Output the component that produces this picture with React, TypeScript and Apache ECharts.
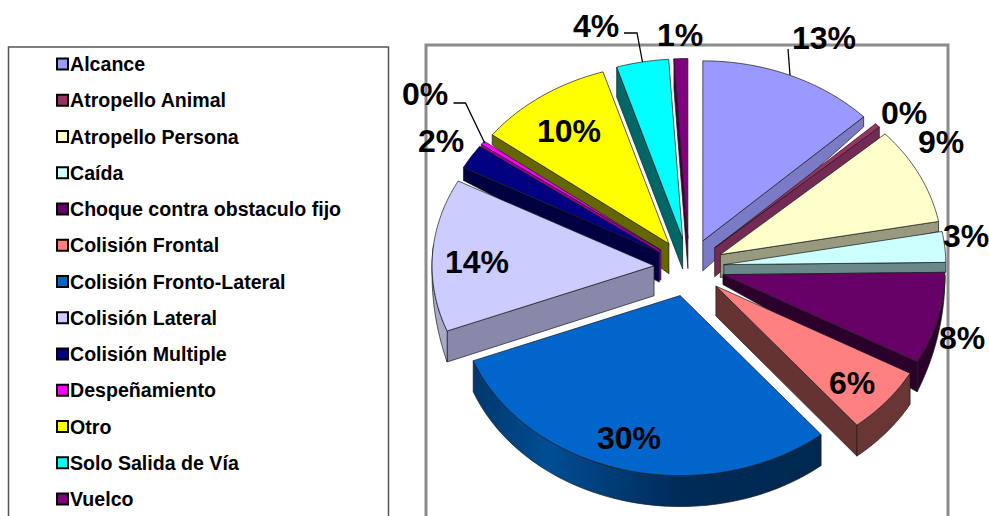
import React, { useEffect, useRef } from "react";
import * as echarts from "echarts";

const categories = ["Alcance", "Atropello Animal", "Atropello Persona", "Caída", "Choque contra obstaculo fijo", "Colisión Frontal", "Colisión Fronto-Lateral", "Colisión Lateral", "Colisión Multiple", "Despeñamiento", "Otro", "Solo Salida de Vía", "Vuelco"];
const shares = [12.9, 0.4, 8.75, 2.75, 8.25, 6.0, 30.05, 13.7, 2.2, 0.35, 9.85, 3.8, 1.0];

const topColors = ["#9999FF", "#993366", "#FFFFCC", "#CCFFFF", "#660066", "#FF8080", "#0066CC", "#CCCCFF", "#000080", "#FF00FF", "#FFFF00", "#00FFFF", "#800080"];
const wallColors = ["#7a7ac6", "#732a55", "#99997f", "#6a8888", "#2b002b", "#663333", "#003060", "#8888aa", "#000040", "#990099", "#666600", "#006666", "#400040"];
const paintRank = [1, 3, 7, 8, 10, 11, 12, 9, 6, 5, 4, 2, 0];

// pie geometry in pixels
const CX = 689, CY = 267.5, RX = 222, RY = 180, EX = 35, EY = 29;
// radial side wall of each slice: [edge, thickness at centre, thickness at rim]
const radialWalls: any[] = [["end", 30, 10], ["end", 29, 11], ["end", 23, 10], ["end", 10, 10], ["end", 10, 30], ["end", 30, 31], null, ["start", 30, 31], ["start", 30, 13], ["start", 30, 10], ["start", 30, 10], ["start", 30, 30], ["start", 30, 30]];
// rim wall of each slice: [degrees skipped at start, degrees kept from start (null = all), thickness at from, thickness at to]
const rimWalls: any[] = [null, null, null, null, [1, null, 2, 30], [0, null, 31, 31], [0, null, 31, 31], [0, 28, 31, 1], null, null, null, null, null];
const rimColors = ["", "", "", "", "#2b002b", "#6a3535", "", "#a9a9c8", "", "", "", "", ""];
const labelCenters = [[824, 38], [904, 113], [941, 142], [966, 236], [962, 338], [852, 383], [629, 438], [477, 262], [441, 141], [425, 94], [569, 131], [596, 26], [680, 35]];

const total = shares.reduce((a, b) => a + b, 0);
const starts: number[] = [];
shares.reduce((acc, v, i) => { starts[i] = acc; return acc + v; }, 0);
const rad = (d: number) => (d * Math.PI) / 180;

function sliceElements(i: number, value: number) {
  const a0 = (starts[i] / total) * 360;
  const a1 = a0 + (value / total) * 360;
  const mid = rad((a0 + a1) / 2);
  const ox = CX + EX * Math.sin(mid);
  const oy = CY - EY * Math.cos(mid);
  const rim = (deg: number, drop = 0) => [ox + RX * Math.sin(rad(deg)), oy - RY * Math.cos(rad(deg)) + drop];
  const z = paintRank[i] * 3 + 1;
  const children: any[] = [];
  const edge = { stroke: "#1a1a1a", lineWidth: 0.7 };

  const rw = radialWalls[i];
  if (rw) {
    const deg = rw[0] === "end" ? a1 : a0;
    children.push({
      type: "polygon", z2: z,
      shape: { points: [[ox, oy], rim(deg), rim(deg, rw[2]), [ox, oy + rw[1]]] },
      style: { fill: wallColors[i], ...edge },
    });
  }
  const rwall = rimWalls[i];
  if (rwall) {
    const from = a0 + rwall[0];
    const to = rwall[1] === null ? a1 : a0 + rwall[1];
    const pts: number[][] = [];
    const n = 40;
    for (let k = 0; k <= n; k++) pts.push(rim(from + ((to - from) * k) / n));
    for (let k = n; k >= 0; k--) pts.push(rim(from + ((to - from) * k) / n, rwall[2] + ((rwall[3] - rwall[2]) * k) / n));
    const fill = rimColors[i] || new echarts.graphic.LinearGradient(0, 0, 1, 0, [
      { offset: 0, color: "#00386e" }, { offset: 0.22, color: "#004d94" }, { offset: 0.42, color: "#003a72" },
      { offset: 0.6, color: "#002a58" }, { offset: 1, color: "#00284f" },
    ]);
    children.push({ type: "polygon", z2: z + 1, shape: { points: pts }, style: { fill, ...edge } });
  }
  const face: number[][] = [[ox, oy]];
  const steps = Math.max(3, Math.ceil(a1 - a0));
  for (let k = 0; k <= steps; k++) face.push(rim(a0 + ((a1 - a0) * k) / steps));
  children.push({ type: "polygon", z2: z + 2, shape: { points: face }, style: { fill: topColors[i], ...edge } });

  children.push({
    type: "text", z2: 200,
    style: {
      text: `${Math.round(value)}%`, x: labelCenters[i][0], y: labelCenters[i][1],
      fill: "#000", font: "bold 32px 'Liberation Sans', Arial, sans-serif", align: "center", verticalAlign: "middle",
    },
  });
  return { type: "group", children };
}

export default function App() {
  const ref = useRef<HTMLDivElement>(null);
  useEffect(() => {
    document.body.style.margin = "0";
    document.body.style.overflow = "hidden";
    const chart = echarts.init(ref.current!, undefined, { renderer: "svg" });
    chart.setOption({
      animation: false,
      backgroundColor: "#fff",
      legend: {
        orient: "vertical", left: 56, top: 53, padding: 0, data: categories, icon: "rect",
        itemWidth: 11, itemHeight: 11, itemGap: 14.25, selectedMode: false,
        itemStyle: { borderColor: "#000", borderWidth: 2 },
        textStyle: { color: "#000", fontFamily: "'Liberation Sans', Arial, sans-serif", fontWeight: "bold", fontSize: 19.6, lineHeight: 22, padding: [0, 0, 0, -3] },
      },
      graphic: [
        { type: "rect", silent: true, shape: { x: 8.5, y: 47, width: 380, height: 500 }, style: { fill: "none", stroke: "#555", lineWidth: 1.5 } },
        { type: "rect", silent: true, shape: { x: 426, y: 45, width: 522, height: 500 }, style: { fill: "none", stroke: "#8c8c8c", lineWidth: 3 } },
        { type: "line", silent: true, z: 5, shape: { x1: 788, y1: 49, x2: 790, y2: 75 }, style: { stroke: "#000", lineWidth: 1.3 } },
        { type: "polyline", silent: true, z: 5, shape: { points: [[624, 33], [637, 33], [642.5, 62]] }, style: { fill: "none", stroke: "#000", lineWidth: 1.3 } },
        { type: "polyline", silent: true, z: 5, shape: { points: [[453.5, 103], [465.5, 103], [484.7, 143]] }, style: { fill: "none", stroke: "#000", lineWidth: 1.3 } },
      ],
      series: categories.map((name, i) => ({
        type: "custom", name, coordinateSystem: "none", clip: false, silent: true,
        itemStyle: { color: topColors[i] },
        data: [[shares[i]]],
        renderItem: (_p: any, api: any) => sliceElements(i, api.value(0)),
      })),
    });
    return () => chart.dispose();
  }, []);
  return <div ref={ref} style={{ position: "absolute", left: 0, top: 0, width: 989, height: 516 }} />;
}
